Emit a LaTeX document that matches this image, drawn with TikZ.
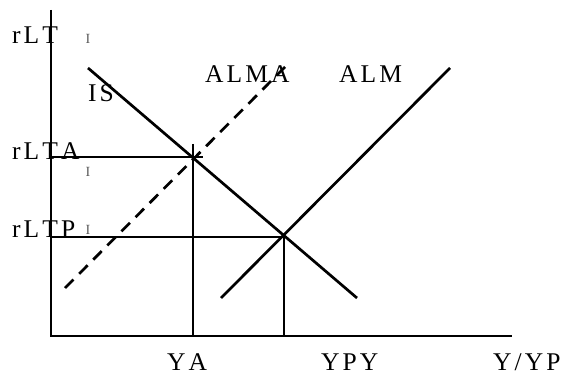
\documentclass[tikz,border=0pt]{standalone}
\usepackage{fontspec}
\setmainfont{Liberation Serif}[LetterSpace=12,Kerning=Off]
\usepackage{tikz}
\usetikzlibrary{positioning, calc}

\begin{document}
\begin{tikzpicture}[
    x=1pt, y=-1pt,
    lbl/.style={inner sep=0, anchor=base west, text depth=0pt, font=\fontsize{25.5}{28}\selectfont},
    tick/.style={inner sep=0, anchor=base, text depth=0pt, text=black!65, font=\fontsize{14}{16}\selectfont},
    axis/.style={line width=1.9pt},
    guide/.style={line width=1.7pt},
    crv/.style={line width=2.7pt}]
\useasboundingbox (0,0) rectangle (565,374);
% axes
\coordinate (o)  at (51,336);
\coordinate (yt) at (51,10);
\coordinate (xe) at (512,336);
\draw[axis] (yt) -- (o) -- (xe);
% curves
\coordinate (is1) at (88,68);   \coordinate (is2) at (357,298);
\coordinate (am1) at (221,298); \coordinate (am2) at (450,68);
\coordinate (aa1) at (65,288);  \coordinate (aa2) at (288,64);
\draw[crv] (is1) -- (is2);
\draw[crv] (am1) -- (am2);
\draw[crv, dash pattern=on 12pt off 8pt] (aa1) -- (aa2);
% equilibria
\coordinate (ea) at (193,157);
\coordinate (ep) at (284,237);
\draw[guide] (51,157) -- ($(ea)+(10,0)$);
\draw[guide] ($(ea)+(0,-13)$) -- (ea |- o);
\draw[guide] (51,237) -- (ep);
\draw[guide] (ep) -- (ep |- o);
% labels
\node[lbl] (rlt)  at (12,44)   {rLT};
\node[lbl] (rlta) at (12,160)  {rLTA};
\node[lbl] (rltp) at (12,237)  {rLTP};
\node[lbl] (is)   at (88,102)  {IS};
\node[lbl] (alma) at (205,83)  {ALMA};
\node[lbl] (alm)  at (339,83)  {ALM};
\node[lbl] (ya)   at (167,370) {YA};
\node[lbl] (ypy)  at (321,370) {YPY};
\node[lbl] (yyp)  at (493,370) {Y/YP};
\node[tick] (t1) at (88,44)  {I};
\node[tick] (t2) at (88,177) {I};
\node[tick] (t3) at (88,235) {I};
\end{tikzpicture}
\end{document}
